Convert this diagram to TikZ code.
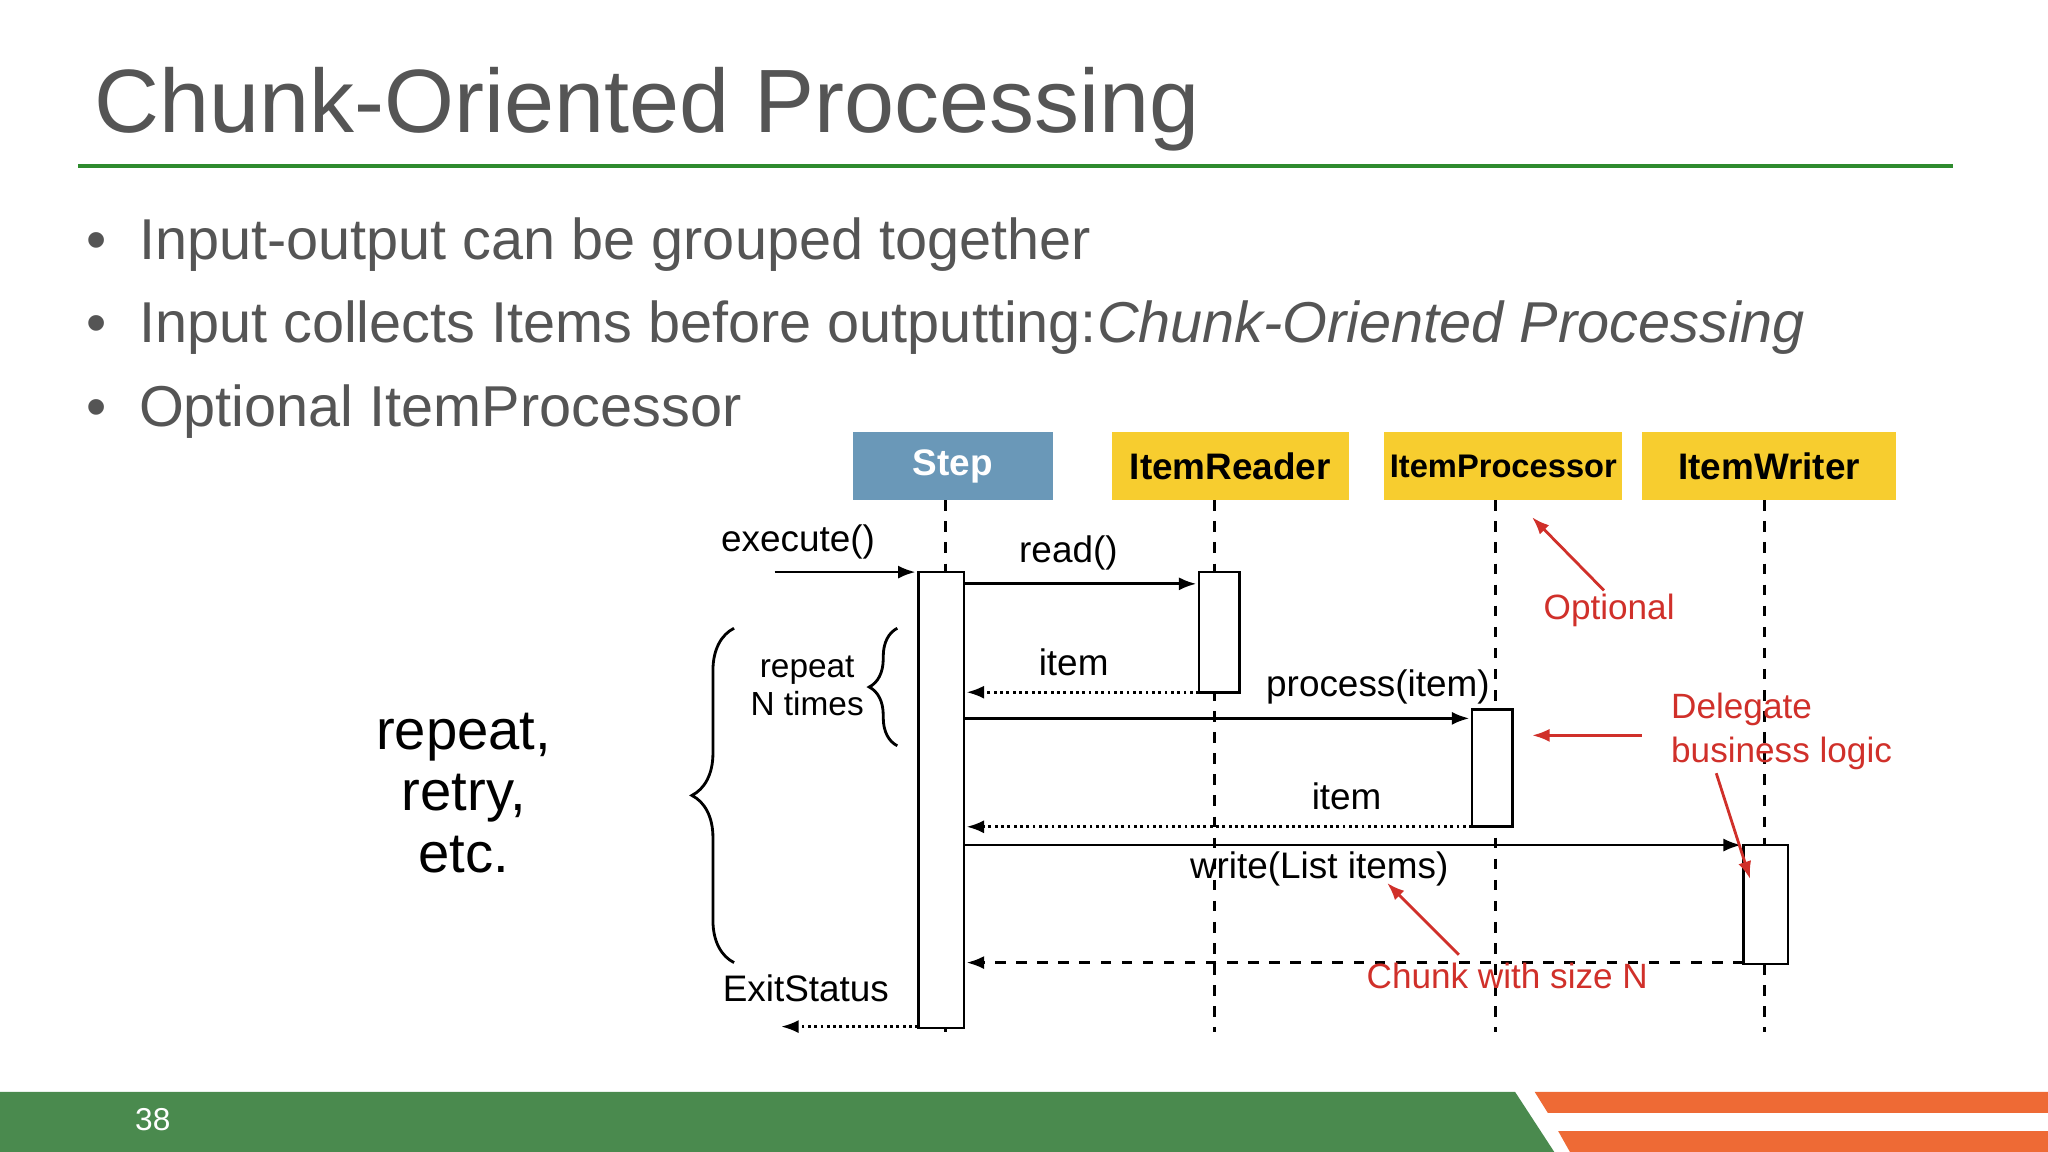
\documentclass[tikz,border=0pt]{standalone}
\usepackage{fontspec}
\setmainfont{Liberation Sans}
\usetikzlibrary{arrows.meta,decorations.pathreplacing}
\definecolor{titlegray}{HTML}{555555}
\definecolor{linegreen}{HTML}{2E8B2E}
\definecolor{footgreen}{HTML}{4A8A4E}
\definecolor{footorange}{HTML}{EE6A35}
\definecolor{stepblue}{HTML}{6A98B8}
\definecolor{roleyellow}{HTML}{F7CD2F}
\definecolor{notered}{HTML}{D0302A}
\tikzset{
  header/.style={minimum height=52*0.01306cm, inner sep=0pt, font=\fontsize{10.5}{13}\selectfont\bfseries},
  activation/.style={draw, thick, fill=white},
  lifeline/.style={dashed, thick},
  msg/.style={thick, -{Latex[length=5pt]}},
  reply/.style={thick, densely dotted, -{Latex[length=5pt]}},
  lbl/.style={font=\fontsize{10.5}{12}\selectfont},
  note/.style={font=\fontsize{10}{12.5}\selectfont, text=notered},
  notearrow/.style={notered, thick, -{Latex[length=5pt]}},
  bullet/.style={anchor=west, text=titlegray, font=\fontsize{16.4}{20}\selectfont}
}
\begin{document}
\begin{tikzpicture}[x=0.01306cm, y=-0.01306cm]
\useasboundingbox (0,0) rectangle (1568,882);

% Title and rule
\node [anchor=west, text=titlegray, font=\fontsize{25.6}{30}\selectfont] (title) at (63,84) {Chunk-Oriented Processing};
\draw [linegreen, line width=1.2pt] (60,127) -- (1495,127);

% Bullets
\node [bullet] (b1) at (57,187) {\textbullet\ \ Input-output can be grouped together};
\node [bullet] (b2) at (57,251) {\textbullet\ \ Input collects Items before outputting:\textit{Chunk-Oriented Processing}};
\node [bullet] (b3) at (57,315) {\textbullet\ \ Optional ItemProcessor};

% Headers
\node [header, fill=stepblue, text=white, minimum width=153*0.01306cm] (step) at (729.5,357) {Step};
\node [header, fill=roleyellow, minimum width=182*0.01306cm] (reader) at (942,357) {ItemReader};
\node [header, fill=roleyellow, minimum width=182*0.01306cm, font=\fontsize{9.3}{11}\selectfont\bfseries] (processor) at (1151,357) {ItemProcessor};
\node [header, fill=roleyellow, minimum width=195*0.01306cm] (writer) at (1354.5,357) {ItemWriter};

% Lifelines
\coordinate (stepend) at (724,790);
\coordinate (readerend) at (930,790);
\coordinate (processorend) at (1145,790);
\coordinate (writerend) at (1351,790);
\draw [lifeline] (724,383) -- (stepend);
\draw [lifeline] (930,383) -- (readerend);
\draw [lifeline] (1145,383) -- (processorend);
\draw [lifeline] (1351,383) -- (writerend);

% Activations
\draw [activation] (703,438) rectangle (738,787);
\draw [activation] (918,438) rectangle (949,530);
\draw [activation] (1127,543) rectangle (1158,633);
\draw [activation] (1335,647) rectangle (1369,738);

% Messages
\coordinate (callin) at (593,438);
\draw [msg] (callin) -- (701,438);
\node [lbl] (execute) at (611,415) {execute()};
\draw [msg] (738,447) -- (916,447);
\node [lbl] (readlbl) at (818,423) {read()};
\draw [reply] (918,530) -- (740,530);
\node [lbl] (item1) at (822,507) {item};
\draw [msg] (738,550) -- (1125,550);
\node [lbl] (processlbl) at (1055,526) {process(item)};
\draw [reply] (1127,633) -- (740,633);
\node [lbl] (item2) at (1031,610) {item};
\draw [msg] (738,647) -- (1333,647);
\node [lbl] (writelbl) at (1010,665) {write(List items)};
\draw [thick, dashed, -{Latex[length=5pt]}] (1335,737) -- (740,737);
\coordinate (exitout) at (598,786);
\draw [reply] (703,786) -- (exitout);
\node [lbl] (exitstatus) at (617,757) {ExitStatus};

% Braces
\draw [thick, decorate, decoration={brace, amplitude=8pt}] (687,571) -- (687,481);
\node [lbl, align=center, font=\fontsize{9.5}{11}\selectfont] (repeatN) at (618,525) {repeat\\N times};
\draw [thick, decorate, decoration={brace, amplitude=12pt}] (562,737) -- (562,481);
\node [align=center, font=\fontsize{16}{17.5}\selectfont] (repeat) at (355,607) {repeat,\\retry,\\etc.};

% Notes
\node [note] (optional) at (1232,467) {Optional};
\draw [notearrow] (1228,452) -- (1173,396);
\node [note, anchor=west, align=left] (delegate) at (1270,560) {Delegate\\business logic};
\draw [notearrow] (1257,563) -- (1173,563);
\draw [notearrow] (1314,592) -- (1340,673);
\node [note] (chunk) at (1154,747) {Chunk with size N};
\draw [notearrow] (1117,731) -- (1062,676);

% Footer
\fill [footgreen] (0,836) -- (1160,836) -- (1190,882) -- (0,882) -- cycle;
\fill [footorange] (1175,836) -- (1568,836) -- (1568,852) -- (1185,852) -- cycle;
\fill [footorange] (1193,866) -- (1568,866) -- (1568,882) -- (1202,882) -- cycle;
\node [text=white, font=\fontsize{9}{10}\selectfont] (page) at (117,857) {38};
\end{tikzpicture}
\end{document}
